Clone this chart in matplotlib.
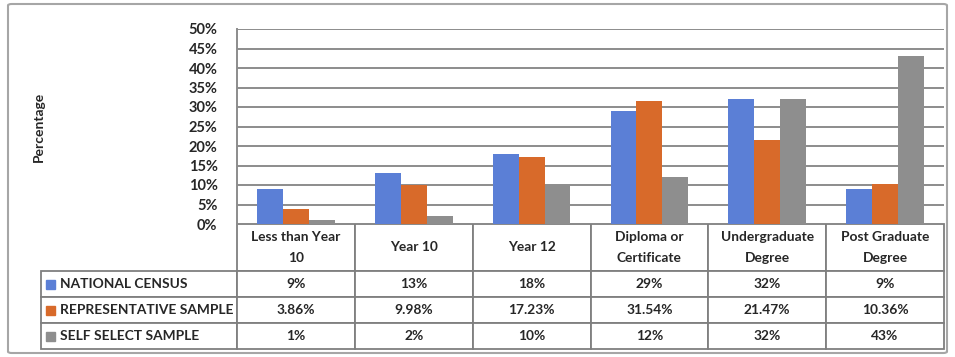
"""
Education level comparison: national census vs representative and self select samples.
Clustered bars with an Excel-style data table under the axis.
"""

import matplotlib
matplotlib.use('Agg')
import matplotlib.pyplot as plt
from matplotlib.patches import FancyBboxPatch, Rectangle
from matplotlib.table import Table
from matplotlib.ticker import FuncFormatter, MultipleLocator

plt.rcParams['font.family'] = ['Lato', 'DejaVu Sans']

# data
categories = ['Less than Year\n10', 'Year 10', 'Year 12', 'Diploma or\nCertificate',
              'Undergraduate\nDegree', 'Post Graduate\nDegree']
series_names = ['NATIONAL CENSUS', 'REPRESENTATIVE SAMPLE', 'SELF SELECT SAMPLE']
national_census = [9, 13, 18, 29, 32, 9]
representative_sample = [3.86, 9.98, 17.23, 31.54, 21.47, 10.36]
self_select_sample = [1, 2, 10, 12, 32, 43]
national_labels = ['9%', '13%', '18%', '29%', '32%', '9%']
representative_labels = ['3.86%', '9.98%', '17.23%', '31.54%', '21.47%', '10.36%']
self_select_labels = ['1%', '2%', '10%', '12%', '32%', '43%']

COLORS = ['#5B7FD6', '#D86A2A', '#8E8E8E']
GRID = '#8C8C8C'
EDGE = '#7F7F7F'
TEXT = '#262626'

# layout in pixels (figure is 955 x 357 at dpi 100)
W, H = 955, 357
AX_L, AX_R, AX_T, AX_B = 237, 944, 29, 224
TABLE_L, TABLE_B = 41, 349
HEADER_H, ROW_H = 47, 26
ROWLABEL_W = AX_L - TABLE_L

fig = plt.figure(figsize=(W / 100, H / 100), dpi=100)
ax = fig.add_axes([AX_L / W, 1 - AX_B / H, (AX_R - AX_L) / W, (AX_B - AX_T) / H])

values = [national_census, representative_sample, self_select_sample]
bar_w = 0.22
for k, (vals, color) in enumerate(zip(values, COLORS)):
    xs = [i + (k - 1) * bar_w for i in range(len(categories))]
    ax.bar(xs, vals, width=bar_w, color=color, zorder=3)

ax.set_xlim(-0.5, len(categories) - 0.5)
ax.set_ylim(0, 50)
ax.yaxis.set_major_locator(MultipleLocator(5))
ax.yaxis.set_major_formatter(FuncFormatter(lambda v, _: f'{v:.0f}%'))
ax.grid(True, axis='y', color=GRID, linewidth=1.4, zorder=0)
ax.set_xticks([])
ax.tick_params(axis='y', length=0, pad=14, labelsize=10.5)
for lbl in ax.get_yticklabels():
    lbl.set_fontweight('bold')
    lbl.set_color(TEXT)
for side in ['top', 'right', 'bottom']:
    ax.spines[side].set_visible(False)
ax.spines['left'].set_color(GRID)
ax.spines['left'].set_linewidth(1.4)

ax.set_ylabel('Percentage', fontsize=10, fontweight='bold', color=TEXT)
ax.yaxis.set_label_coords((45 - AX_L) / (AX_R - AX_L), 0.5)

# data table under the axis: series names in column 0, values in 1..6
ax_w = AX_R - AX_L
ax_h = AX_B - AX_T
table_h = TABLE_B - AX_B
col_w = ax_w / len(categories)
tbl = Table(ax, bbox=[(TABLE_L - AX_L) / ax_w, -table_h / ax_h,
                      (AX_R - TABLE_L) / ax_w, table_h / ax_h])

corner = tbl.add_cell(0, 0, ROWLABEL_W, HEADER_H, text='')
corner.visible_edges = ''
corner.set_facecolor('none')
for j, cat in enumerate(categories):
    tbl.add_cell(0, j + 1, col_w, HEADER_H, text=cat, loc='center')

row_texts = [national_labels, representative_labels, self_select_labels]
for i, (name, texts) in enumerate(zip(series_names, row_texts)):
    cell = tbl.add_cell(i + 1, 0, ROWLABEL_W, ROW_H, text=name, loc='left')
    cell.PAD = 19.5 / ROWLABEL_W
    for j, t in enumerate(texts):
        tbl.add_cell(i + 1, j + 1, col_w, ROW_H, text=t, loc='center')

tbl.auto_set_font_size(False)
for (r, c), cell in tbl.get_celld().items():
    cell.set_edgecolor(EDGE)
    cell.set_linewidth(1.3)
    txt = cell.get_text()
    txt.set_fontsize(9.9)
    txt.set_fontweight('bold')
    txt.set_color(TEXT)
    txt.set_linespacing(1.8)
ax.add_table(tbl)

# legend keys inside the series name cells
fig.canvas.draw()
renderer = fig.canvas.get_renderer()
for k, color in enumerate(COLORS):
    bb = tbl[k + 1, 0].get_window_extent(renderer)
    cy = (bb.y0 + bb.y1) / 2
    size = 9
    fig.patches.append(Rectangle(((bb.x0 + 5) / W, (cy - size / 2) / H), size / W, size / H,
                                 transform=fig.transFigure, color=color, zorder=5))

# chart border
fig.patches.append(FancyBboxPatch((8 / W, 4 / H), 939 / W, 349 / H,
                                  boxstyle='round,pad=0,rounding_size=0.004',
                                  transform=fig.transFigure, facecolor='none',
                                  edgecolor='#A6A6A6', linewidth=1.5))

fig.savefig('out.png', dpi=100)
